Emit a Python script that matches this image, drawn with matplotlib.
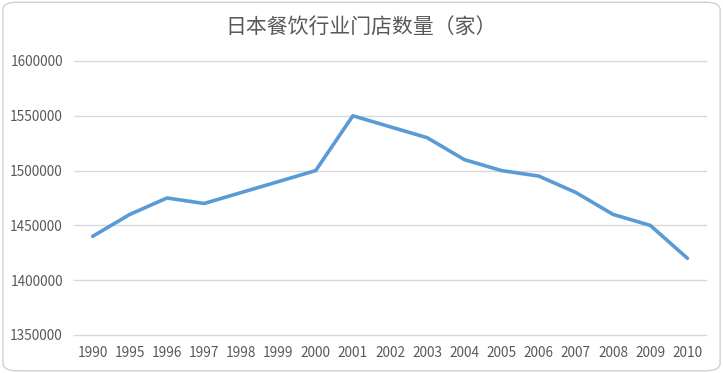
import matplotlib.pyplot as plt
from matplotlib.patches import FancyBboxPatch

plt.rcParams['font.family'] = ['Liberation Sans Narrow', 'Noto Sans CJK SC', 'DejaVu Sans']

years = ['1990', '1995', '1996', '1997', '1998', '1999', '2000', '2001', '2002',
         '2003', '2004', '2005', '2006', '2007', '2008', '2009', '2010']
stores = [1440000, 1460000, 1475000, 1470000, 1480000, 1490000, 1500000, 1550000,
          1540000, 1530000, 1510000, 1500000, 1495000, 1480000, 1460000, 1450000, 1420000]
yticks = [1350000, 1400000, 1450000, 1500000, 1550000, 1600000]

fig = plt.figure(figsize=(7.23, 3.73), dpi=100)
fig.patches.append(FancyBboxPatch((0.004, 0.006), 0.992, 0.988,
                                  boxstyle='round,pad=0,rounding_size=0.02',
                                  transform=fig.transFigure, facecolor='white',
                                  edgecolor='#d0d0d0', linewidth=1.0, zorder=-1))
ax = fig.add_axes([0.1024, 0.1019, 0.8741, 0.7346])
ax.set_facecolor('none')

x = range(len(years))
ax.plot(x, stores, color='#5B9BD5', linewidth=2.6, solid_joinstyle='round',
        solid_capstyle='round', zorder=3)

ax.set_xlim(-0.5, len(years) - 0.5)
ax.set_ylim(yticks[0], yticks[-1])
ax.set_yticks(yticks)
ax.set_yticklabels([str(v) for v in yticks])
ax.set_xticks(list(x))
ax.set_xticklabels(years)
ax.grid(axis='y', color='#d9d9d9', linewidth=1.0)
for g in ax.get_ygridlines():
    g.set_clip_on(False)
ax.set_axisbelow(True)
for s in ax.spines.values():
    s.set_visible(False)
ax.tick_params(length=0, labelsize=9.8, colors='#595959')
ax.tick_params(axis='x', pad=8)
ax.tick_params(axis='y', pad=8)

fig.text(0.5, 0.925, '日本餐饮行业门店数量（家）', ha='center', va='center',
         fontsize=15, color='#595959', family=['Noto Sans CJK SC', 'DejaVu Sans'])

fig.savefig('out.png', dpi=100)
